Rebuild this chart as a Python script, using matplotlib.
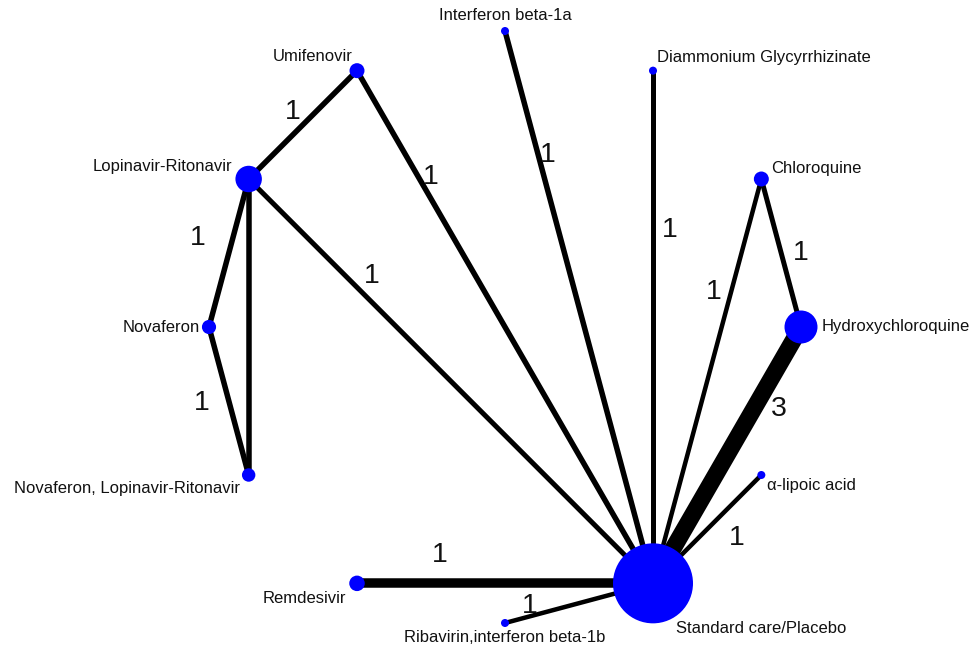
import numpy as np
import matplotlib
matplotlib.use("Agg")
import matplotlib.pyplot as plt
from matplotlib.patches import Circle

# Treatments, arranged clockwise from the top of the circle
treatments = [
    "Interferon beta-1a",
    "Diammonium Glycyrrhizinate",
    "Chloroquine",
    "Hydroxychloroquine",
    "\u03b1-lipoic acid",
    "Standard care/Placebo",
    "Ribavirin,interferon beta-1b",
    "Remdesivir",
    "Novaferon, Lopinavir-Ritonavir",
    "Novaferon",
    "Lopinavir-Ritonavir",
    "Umifenovir",
]

# Relative node weight (node area)
node_weight = [16, 16, 56, 272, 16, 1600, 16, 60, 45, 50, 175, 56]

# Direct comparisons: (treatment a, treatment b)
comparisons = [
    ("Umifenovir", "Lopinavir-Ritonavir"),
    ("Umifenovir", "Standard care/Placebo"),
    ("Interferon beta-1a", "Standard care/Placebo"),
    ("Diammonium Glycyrrhizinate", "Standard care/Placebo"),
    ("Lopinavir-Ritonavir", "Standard care/Placebo"),
    ("Chloroquine", "Standard care/Placebo"),
    ("Chloroquine", "Hydroxychloroquine"),
    ("Hydroxychloroquine", "Standard care/Placebo"),
    ("\u03b1-lipoic acid", "Standard care/Placebo"),
    ("Remdesivir", "Standard care/Placebo"),
    ("Ribavirin,interferon beta-1b", "Standard care/Placebo"),
    ("Lopinavir-Ritonavir", "Novaferon"),
    ("Novaferon", "Novaferon, Lopinavir-Ritonavir"),
    ("Lopinavir-Ritonavir", "Novaferon, Lopinavir-Ritonavir"),
]
# Number of trials per comparison (None = not annotated)
n_trials = [1, 1, 1, 1, 1, 1, 1, 3, 1, 1, 1, 1, 1, None]

# ---- styling / layout ----
edge_width_px = [5.5, 5.5, 5.5, 5, 5, 4.5, 5, 17, 4.5, 9.5, 4.5, 5.5, 5.5, 5.5]
# label placement along each edge: fraction from first node, pixel offset
edge_label_pos = [
    (0.5, -10, -13), (0.22, 9, -6), (0.22, 10, 2), (0.31, 17, 0),
    (0.24, 26, 0), (0.28, -17, 0), (0.5, 20, 0), (0.32, 25, 0),
    (0.5, 30, 9), (0.28, 0, -28), (0.17, 0, -10), (0.4, -35, 0),
    (0.5, -27, 2), (0.5, 0, 0),
]
# node label offsets (pixels) and horizontal alignment
node_label_pos = [
    (0, -16, "center"), (4, -13, "left"), (10, -11, "left"), (21, 0, "left"),
    (6, 11, "left"), (23, 45, "left"), (0, 15, "center"), (-11, 15, "right"),
    (-9, 13, "right"), (-9, 0, "right"), (-16, -13, "right"), (-4, -14, "right"),
]

W, H = 974, 649
cx, cy, R = 505, 327, 296
node_color = "#0000ff"
font = "Liberation Sans"

angles = np.deg2rad(np.arange(len(treatments)) * 360 / len(treatments))
pos = {t: (cx + R * np.sin(a), cy - R * np.cos(a)) for t, a in zip(treatments, angles)}

fig = plt.figure(figsize=(W / 100, H / 100), dpi=100)
ax = fig.add_axes([0, 0, 1, 1])
ax.set_xlim(0, W)
ax.set_ylim(H, 0)
ax.axis("off")

px2pt = 72 / 100
for (a, b), n, lw, (t, dx, dy) in zip(comparisons, n_trials, edge_width_px, edge_label_pos):
    (x0, y0), (x1, y1) = pos[a], pos[b]
    ax.plot([x0, x1], [y0, y1], color="black", lw=lw * px2pt,
            solid_capstyle="butt", zorder=1)
    if n is not None:
        lx = x0 + t * (x1 - x0) + dx
        ly = y0 + t * (y1 - y0) + dy
        ax.text(lx, ly, str(n), fontsize=20.5, family=font, color="#111111",
                ha="center", va="center", zorder=3)

for t, w, (dx, dy, ha) in zip(treatments, node_weight, node_label_pos):
    x, y = pos[t]
    ax.add_patch(Circle((x, y), np.sqrt(w), color=node_color, zorder=2, lw=0))
    ax.text(x + dx, y + dy, t, fontsize=12, family=font, color="#111111",
            ha=ha, va="center", zorder=3)

fig.savefig("out.png", dpi=100)
